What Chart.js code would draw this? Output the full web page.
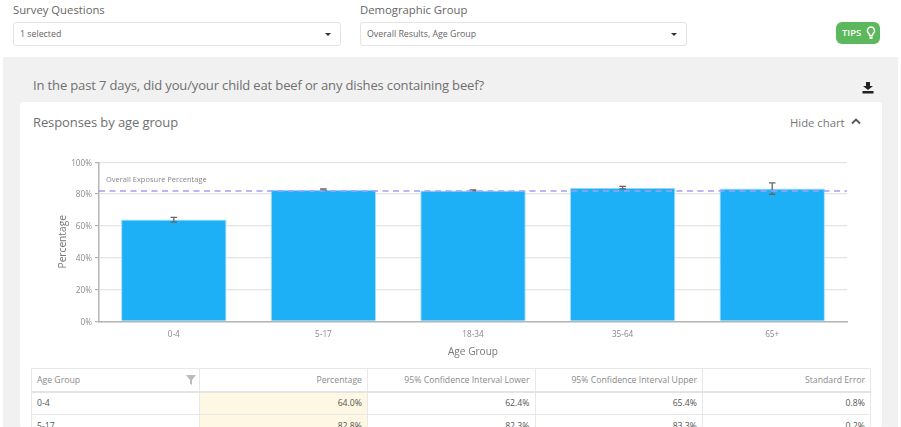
<!DOCTYPE html>
<html><head><meta charset="utf-8">
<script src="https://cdn.jsdelivr.net/npm/chart.js@4"></script>
<style>
html,body{margin:0;padding:0;width:901px;height:427px;overflow:hidden;background:#fff;font-family:"Open Sans",sans-serif}
.a{position:absolute;white-space:nowrap}
.sel{position:absolute;top:22px;height:22px;border:1px solid #e4e4e4;border-radius:3px;background:#fff;font-size:8.8px;color:#666;line-height:23px;text-indent:6px}
.sel i{position:absolute;right:9px;top:10px;width:0;height:0;border:3px solid transparent;border-top-color:#333;border-bottom:0}
table{position:absolute;left:31px;top:368px;width:839px;border-collapse:collapse;table-layout:fixed;font-size:8.7px;color:#555}
td,th{border:1px solid #e8e8e8;text-align:right;padding:0 5px;height:23px;font-weight:400;box-sizing:border-box}
th{color:#8a8a8a;border-bottom:2px solid #e4e4e4}
td:first-child,th:first-child{text-align:left}
td.h{background:#fdf7e3}
</style></head><body>
<div class="a" style="left:13px;top:2px;font-size:11.3px;color:#666">Survey Questions</div>
<div class="a" style="left:360px;top:2px;font-size:11.3px;color:#666">Demographic Group</div>
<div class="sel" style="left:13px;width:326px">1 selected<i></i></div>
<div class="sel" style="left:360px;width:325px">Overall Results, Age Group<i></i></div>
<div class="a" style="left:836px;top:22px;width:44px;height:22px;border-radius:6px;background:#5cb85c;color:#fff;font-size:9.5px;font-weight:600;line-height:22px;text-indent:6px">TIPS
<svg style="position:absolute;left:30px;top:4px" width="10" height="14" viewBox="0 0 10 14"><path d="M5 1a3.6 3.6 0 0 0-2.2 6.4c.6.6.7 1.300.8 2.100h2.800c.1-.8.2-1.500.8-2.100A3.600 3.600 0 0 0 5 1z" fill="none" stroke="#fff" stroke-width="1.400"/><rect x="3.500" y="10.500" width="3" height="2.500" fill="#fff"/></svg></div>
<div class="a" style="left:3px;top:57px;width:895px;height:370px;background:#f1f1f1"></div>
<div class="a" style="left:33px;top:76px;font-size:13px;letter-spacing:-0.14px;color:#707070">In the past 7 days, did you/your child eat beef or any dishes containing beef?</div>
<svg class="a" style="left:862px;top:82px" width="12" height="12" viewBox="0 0 12 12"><path d="M4 0h4v4h3L6 8 1 4h3z" fill="#222"/><rect x="0.500" y="9" width="11" height="2.500" fill="#222"/></svg>
<div class="a" style="left:20px;top:102px;width:862px;height:325px;background:#fff;border-radius:3px"></div>
<div class="a" style="left:33px;top:113px;font-size:13px;letter-spacing:-0.1px;color:#707070">Responses by age group</div>
<div class="a" style="left:790px;top:115px;font-size:11.3px;color:#777">Hide chart</div>
<svg class="a" style="left:851px;top:118px" width="10" height="7" viewBox="0 0 10 7"><path d="M1 5.500L5 1.500L9 5.500" fill="none" stroke="#555" stroke-width="1.800"/></svg>
<div class="a" style="left:40px;top:150px;width:810px;height:215px"><canvas id="c" width="810" height="215"></canvas></div>
<table><colgroup><col style="width:168px"><col style="width:168px"><col style="width:167.500px"><col style="width:167.500px"><col style="width:168px"></colgroup>
<tr><th>Age Group<svg style="position:absolute;left:154px;top:6px" width="10" height="10" viewBox="0 0 10 10"><path d="M0 0h10L6 5v5L4 8.500V5z" fill="#bbb"/></svg></th><th>Percentage</th><th>95% Confidence Interval Lower</th><th>95% Confidence Interval Upper</th><th>Standard Error</th></tr>
<tr><td>0-4</td><td class="h">64.0%</td><td>62.4%</td><td>65.4%</td><td>0.8%</td></tr>
<tr><td>5-17</td><td class="h">82.8%</td><td>82.3%</td><td>83.3%</td><td>0.2%</td></tr>
</table>
<script>
const categories = ["0-4","5-17","18-34","35-64","65+"];
const percentage = [64.0,82.8,82.3,84.0,83.6];
const ciLower = [62.4,82.3,82.0,83.3,79.9];
const ciUpper = [65.4,83.3,82.7,84.8,87.1];
const overallExposure = 82;
const overallLabel = "Overall Exposure Percentage";
const yTicks = [0,20,40,60,80,100];

const overlay = {
  id:"overlay",
  afterDatasetsDraw(chart){
    const {ctx,scales:{x,y},chartArea:a}=chart;
    ctx.save();
    ctx.strokeStyle="#666";ctx.lineWidth=1.3;
    categories.forEach((c,i)=>{
      const px=x.getPixelForValue(i),lo=y.getPixelForValue(ciLower[i]),hi=y.getPixelForValue(ciUpper[i]);
      ctx.beginPath();
      ctx.moveTo(px,lo);ctx.lineTo(px,hi);
      ctx.moveTo(px-3.300,lo);ctx.lineTo(px+3.300,lo);
      ctx.moveTo(px-3.300,hi);ctx.lineTo(px+3.300,hi);
      ctx.stroke();
    });
    const ly=y.getPixelForValue(overallExposure);
    ctx.strokeStyle="#a3a0f8";ctx.lineWidth=1.500;ctx.setLineDash([6,4.500]);
    ctx.beginPath();ctx.moveTo(a.left,ly);ctx.lineTo(a.right,ly);ctx.stroke();
    ctx.setLineDash([]);
    ctx.fillStyle="#888";ctx.font='7.500px "Open Sans"';ctx.textAlign="left";ctx.textBaseline="middle";
    ctx.fillText(overallLabel,a.left+7,y.getPixelForValue(89));
    ctx.restore();
  }
};

new Chart(document.getElementById("c"),{
  type:"bar",
  data:{labels:categories,datasets:[{data:percentage,backgroundColor:"#1eb0f7",borderColor:"#a8e2fc",borderWidth:{left:1,right:1,top:1,bottom:0},categoryPercentage:0.705,barPercentage:1}]},
  plugins:[overlay],
  options:{
    responsive:false,animation:false,
    layout:{padding:{top:12.300,right:3,left:0,bottom:0}},
    plugins:{legend:{display:false},tooltip:{enabled:false}},
    scales:{
      x:{
        afterFit(s){s.height=43.700},
        grid:{display:false,drawTicks:false},
        border:{color:"#b5b5b5",width:1.500},
        ticks:{color:"#888",font:{family:"Open Sans",size:8.200},padding:8,maxRotation:0},
        title:{display:true,text:"Age Group",color:"#777",font:{family:"Open Sans",size:10.100},padding:{top:5,bottom:7}}
      },
      y:{
        min:0,max:100,
        afterFit(s){s.width=59},
        afterBuildTicks(s){s.ticks=yTicks.map(v=>({value:v}))},
        grid:{color:"#e4e4e4",lineWidth:1.200,tickLength:4,tickColor:"#b5b5b5"},
        border:{color:"#b5b5b5",width:1.500},
        ticks:{color:"#888",font:{family:"Open Sans",size:8.200},padding:3,labelOffset:1,callback:v=>v+"%"},
        title:{display:true,text:"Percentage",color:"#777",font:{family:"Open Sans",size:10.200},padding:{top:17,bottom:0}}
      }
    }
  }
});
</script>
</body></html>
